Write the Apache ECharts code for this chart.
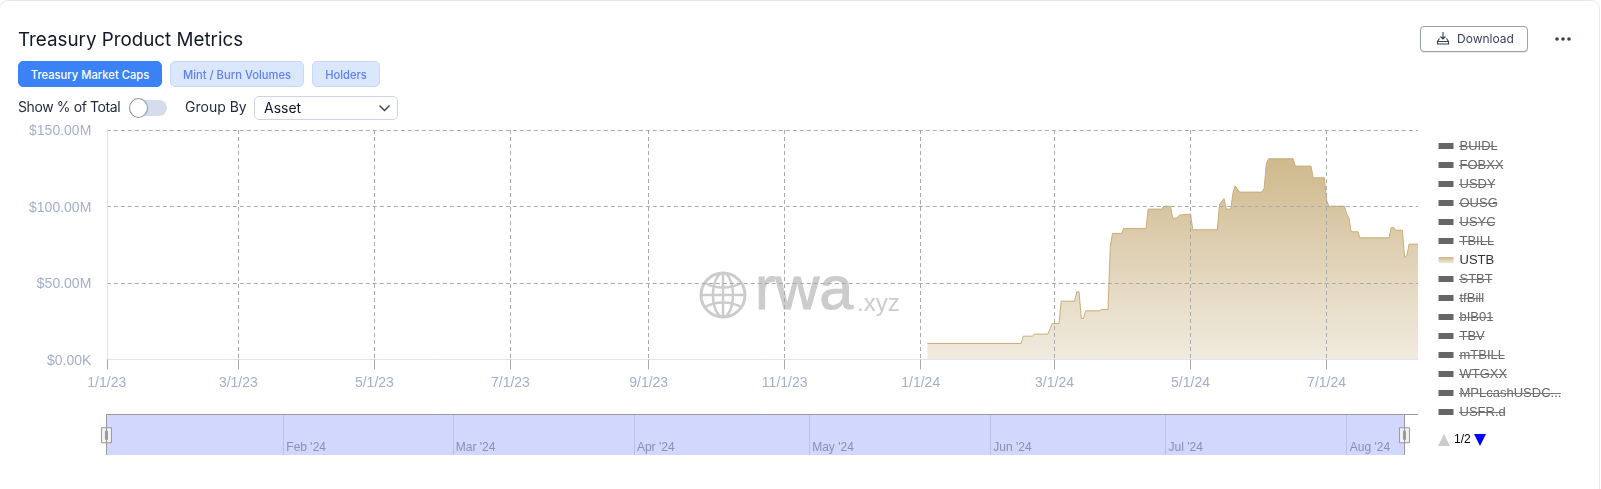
<!DOCTYPE html>
<html>
<head>
<meta charset="utf-8">
<script src="https://cdn.jsdelivr.net/npm/echarts@6/dist/echarts.min.js"></script>
<style>
html,body{margin:0;padding:0;background:#fff;width:1601px;height:489px;overflow:hidden;font-family:Inter,sans-serif}
#card{position:absolute;left:-1px;top:0;width:1601px;height:520px;border:1px solid #e2e8f3;border-radius:9px;box-sizing:border-box}
#chart{position:absolute;left:0;top:0;width:1601px;height:489px}
.h{position:absolute;box-sizing:border-box;white-space:nowrap}
.tab{top:61px;height:26px;border-radius:5px;font-size:11.2px;font-weight:500;line-height:26px;text-align:center;border:1px solid #c9d8f6;background:#dbe7fd;color:#5f80f4}
.lab{font-size:14px;color:#1f2937;line-height:18px}
</style>
</head>
<body>
<div id="card"></div>
<div id="chart"></div>
<div class="h tab" style="left:18px;width:144px;background:#3b82f6;border-color:#3b82f6;color:#fff">Treasury Market Caps</div>
<div class="h tab" style="left:170px;width:134px">Mint / Burn Volumes</div>
<div class="h tab" style="left:312px;width:68px">Holders</div>
<div class="h lab" style="left:18px;top:98px;letter-spacing:-0.4px">Show % of Total</div>
<div class="h" style="left:129px;top:100px;width:38px;height:16px;border-radius:8px;background:#d5dcec"></div>
<div class="h" style="left:129px;top:98px;width:19px;height:20px;border-radius:50%;background:#fff;border:1px solid #8b94b2"></div>
<div class="h lab" style="left:185px;top:98px">Group By</div>
<div class="h" style="left:254px;top:96px;width:144px;height:24px;border:1px solid #cdd5e5;border-radius:5px;background:#fff"></div>
<div class="h lab" style="left:264px;top:99px;color:#111827">Asset</div>
<svg class="h" style="left:378px;top:104px" width="13" height="9"><path d="M1.5 1.5L6.5 6.5L11.5 1.5" fill="none" stroke="#374151" stroke-width="1.4"/></svg>
<div class="h" style="left:1420px;top:26px;width:108px;height:26px;border:1px solid #9aa0ad;border-radius:4px;background:#fff;box-shadow:0 1px 1px #e5e7eb"></div>
<svg class="h" style="left:1436px;top:31px" width="14" height="14"><path d="M7 1V8M4.5 5.5L7 8L9.5 5.5M3.5 7.5L1.5 10.5V13H12.5V10.5L10.5 7.5" fill="none" stroke="#374151" stroke-width="1.1"/><path d="M1.5 10.5H12.5" stroke="#374151"/></svg>
<div class="h" style="left:1457px;top:30px;font-size:12px;line-height:18px;color:#3a3f63">Download</div>
<svg class="h" style="left:1554px;top:36px" width="18" height="6"><circle cx="3" cy="3" r="1.8" fill="#374151"/><circle cx="9" cy="3" r="1.8" fill="#374151"/><circle cx="15" cy="3" r="1.8" fill="#374151"/></svg>
<script>
// ---- data ----
const seriesNames = ['BUIDL','FOBXX','USDY','OUSG','USYC','TBILL','USTB','STBT','tfBill','bIB01','TBV','mTBILL','WTGXX','MPLcashUSDC...','USFR.d'];
const activeSeries = 'USTB';
const ustbDates = ['2024-01-04','2024-02-15','2024-02-16','2024-02-20','2024-02-21','2024-02-27','2024-02-29','2024-03-03','2024-03-04','2024-03-10','2024-03-11','2024-03-12','2024-03-13','2024-03-14','2024-03-15','2024-03-21','2024-03-22','2024-03-25','2024-03-26','2024-03-27','2024-03-31','2024-04-01','2024-04-11','2024-04-12','2024-04-18','2024-04-19','2024-04-22','2024-04-23','2024-04-25','2024-04-26','2024-05-01','2024-05-02','2024-05-13','2024-05-14','2024-05-16','2024-05-17','2024-05-19','2024-05-20','2024-05-21','2024-05-23','2024-06-02','2024-06-03','2024-06-04','2024-06-05','2024-06-16','2024-06-17','2024-06-24','2024-06-25','2024-06-30','2024-07-01','2024-07-02','2024-07-09','2024-07-10','2024-07-11','2024-07-12','2024-07-15','2024-07-16','2024-07-29','2024-07-30','2024-07-31','2024-08-01','2024-08-04','2024-08-05','2024-08-06','2024-08-07','2024-08-11'];
const ustbValues = [10.5,10.5,15.25,15.25,16.6,16.6,23.5,23.5,38.1,38.1,44.2,44.2,26.8,26.8,31.8,31.8,32.7,32.7,73.7,82.4,82.4,85.6,85.6,98.3,98.3,100.2,100.2,92.4,92.4,94.4,95,84.8,84.8,101.5,105.2,98.3,98.3,108.5,113.5,109.4,109.4,111.8,128.1,131.2,131.2,126.4,126.4,118.8,118.8,104.2,100.2,100.2,95.4,92.8,83.5,83.5,79.5,79.5,86.3,86.3,84.5,84.5,66.7,67.8,75.4,75.4];
const xTickDates = ['2023-01-01','2023-03-01','2023-05-01','2023-07-01','2023-09-01','2023-11-01','2024-01-01','2024-03-01','2024-05-01','2024-07-01'];
const sliderMonths = ['2024-02-01','2024-03-01','2024-04-01','2024-05-01','2024-06-01','2024-07-01','2024-08-01'];
const monthNames = ['Jan','Feb','Mar','Apr','May','Jun','Jul','Aug'];
const legendPageText = '1/2';

function ts(s){const p=s.split('-').map(Number);return new Date(p[0],p[1]-1,p[2]).getTime();}
const DAY=864e5;
const grad=(a,b)=>new echarts.graphic.LinearGradient(0,0,0,1,[{offset:0,color:a},{offset:1,color:b}]);
const ustb=ustbDates.map((d,i)=>[ts(d),ustbValues[i]]);

const chart=echarts.init(document.getElementById('chart'),null,{renderer:'canvas'});

// strike-through of the switched-off legend names
const cv=document.createElement('canvas').getContext('2d');cv.font='13px "Liberation Sans"';
const strikes=seriesNames.map((n,i)=>n===activeSeries?null:({type:'line',silent:true,z:50,
  shape:{x1:1459,y1:146.5+i*19,x2:1459+cv.measureText(n).width,y2:146.5+i*19},style:{stroke:'#777',lineWidth:1}})).filter(Boolean);

const globe={type:'group',x:723,y:295,silent:true,z:1,children:[
  {type:'circle',shape:{r:22},style:{fill:'none',stroke:'#ccc',lineWidth:3}},
  {type:'ellipse',shape:{rx:10,ry:22},style:{fill:'none',stroke:'#ccc',lineWidth:2.5}},
  {type:'line',shape:{x1:0,y1:-22,x2:0,y2:22},style:{stroke:'#ccc',lineWidth:2.5}},
  {type:'line',shape:{x1:-22,y1:0,x2:22,y2:0},style:{stroke:'#ccc',lineWidth:2.5}},
  {type:'bezierCurve',shape:{x1:-18,y1:-12,x2:18,y2:-12,cpx1:-8,cpy1:-6,cpx2:8,cpy2:-6},style:{fill:'none',stroke:'#ccc',lineWidth:2.5}},
  {type:'bezierCurve',shape:{x1:-18,y1:12,x2:18,y2:12,cpx1:-8,cpy1:6,cpx2:8,cpy2:6},style:{fill:'none',stroke:'#ccc',lineWidth:2.5}}
]};

chart.setOption({
  animation:false,
  title:{text:'Treasury Product Metrics',left:18,top:31,padding:0,textStyle:{fontFamily:'Inter',fontSize:18.8,fontWeight:400,color:'#111827'}},
  grid:[
    {left:106.8,width:1311.2,top:130,height:229.5},
    {left:106.3,width:1298,top:414.5,height:40.5,show:true,backgroundColor:'#d2d7fd',borderWidth:0}
  ],
  xAxis:[
    {type:'value',gridIndex:0,min:ts('2023-01-01'),max:ts('2024-08-11'),z:3,
      axisLine:{show:true,lineStyle:{color:'#e0e6f1'}},
      axisTick:{show:true,length:10,customValues:xTickDates.map(ts),lineStyle:{color:'#aaa'}},
      splitLine:{show:true,showMinLine:false,lineStyle:{type:[4,3],color:'#aaa'}},
      axisLabel:{customValues:xTickDates.map(ts),margin:17,color:'#a3afcb',fontFamily:'Liberation Sans',fontSize:14,hideOverlap:false,
        formatter:v=>{const d=new Date(v);return (d.getMonth()+1)+'/'+d.getDate()+'/'+String(d.getFullYear()).slice(2);}}},
    {type:'value',gridIndex:1,min:ts('2024-01-01')+0.7*DAY,max:ts('2024-08-10')+0.85*DAY,z:8,
      axisLine:{show:false},
      axisTick:{show:false,customValues:sliderMonths.map(ts)},
      splitLine:{show:true,lineStyle:{color:'#bcc1ea',width:1}},
      axisLabel:{customValues:sliderMonths.map(ts),inside:true,margin:1,align:'left',padding:[0,0,0,3],color:'#8a8fb3',fontFamily:'Liberation Sans',fontSize:12,hideOverlap:false,
        formatter:v=>{const d=new Date(v);return monthNames[d.getMonth()]+" '"+String(d.getFullYear()).slice(2);}}}
  ],
  yAxis:[
    {type:'value',gridIndex:0,min:0,max:150,interval:50,z:3,
      axisLine:{show:true,lineStyle:{color:'#e0e6f1'}},axisTick:{show:false},
      splitLine:{showMinLine:false,lineStyle:{type:[4,3],color:'#aaa'}},
      axisLabel:{margin:15.5,verticalAlign:'top',lineHeight:3,color:'#a3afcb',fontFamily:'Liberation Sans',fontSize:14,
        formatter:v=>v===0?'$0.00K':'$'+v.toFixed(2)+'M'}},
    {type:'value',gridIndex:1,min:0,max:1,show:false}
  ],
  dataZoom:[{type:'slider',xAxisIndex:1,left:104.3,width:1300,top:414.5,height:40.5,start:0,end:100,filterMode:'none',
    backgroundColor:'transparent',borderColor:'transparent',fillerColor:'transparent',showDetail:false,showDataShadow:false,brushSelect:false,moveHandleSize:0,z:9,
    handleIcon:'path://M0 0H10V15H0Z M4 3V12 M6 3V12',handleSize:15,handleStyle:{color:'#f2f2f2',borderColor:'#999',borderWidth:1},
    emphasis:{handleStyle:{color:'#f2f2f2',borderColor:'#999'}}}],
  legend:{type:'plain',orient:'vertical',left:1438.5,top:139.5,padding:0,itemWidth:15,itemHeight:6,itemGap:6,icon:'rect',
    inactiveColor:'#666',inactiveBorderColor:'#666',
    textStyle:{fontFamily:'Liberation Sans',fontSize:13,color:'#333',padding:[0,0,0,1]},
    data:seriesNames.map(n=>n===activeSeries?{name:n,itemStyle:{color:grad('#cdb488','#f0e9db')}}:{name:n}),
    selected:Object.fromEntries(seriesNames.map(n=>[n,n===activeSeries]))},
  series:seriesNames.map(n=>n===activeSeries?{
      name:n,type:'line',xAxisIndex:0,yAxisIndex:0,data:ustb,showSymbol:false,smooth:false,z:2,
      lineStyle:{color:'#c9ad78',width:1},itemStyle:{color:'#c9ad78'},
      areaStyle:{color:grad('#cfb98d','#f1ebdf'),opacity:1}
    }:{name:n,type:'line',xAxisIndex:0,yAxisIndex:0,data:[],showSymbol:false})
    .concat([{name:'slider',type:'line',xAxisIndex:1,yAxisIndex:1,data:ustb.map(p=>[p[0],0.5]),showSymbol:false,silent:true,lineStyle:{opacity:0}}]),
  graphic:[
    globe,
    {type:'text',x:755,y:323,silent:true,z:1,style:{text:'rwa',fontFamily:'Liberation Sans',fontSize:61,fill:'#ccc',stroke:'#ccc',lineWidth:1,verticalAlign:'bottom'}},
    {type:'text',x:857,y:316,silent:true,z:1,style:{text:'.xyz',fontFamily:'Liberation Sans',fontSize:24,fill:'#ccc',verticalAlign:'bottom'}},
    {type:'polyline',silent:true,z:20,shape:{points:[[106.5,455],[106.5,414.5],[1418,414.5]]},style:{fill:'none',stroke:'#999',lineWidth:1}},
    {type:'line',silent:true,z:20,shape:{x1:1404.5,y1:414.5,x2:1404.5,y2:455},style:{stroke:'#999',lineWidth:1}},
    {type:'polygon',silent:true,z:20,shape:{points:[[1438,446],[1444,434],[1450,446]]},style:{fill:'#ccc'}},
    {type:'polygon',silent:true,z:20,shape:{points:[[1474,434],[1486,434],[1480,446]]},style:{fill:'#0000ff'}},
    {type:'text',x:1454,y:434,silent:true,z:20,style:{text:legendPageText,fontFamily:'Liberation Sans',fontSize:12,fill:'#000'}}
  ].concat(strikes)
});
</script>
</body>
</html>
